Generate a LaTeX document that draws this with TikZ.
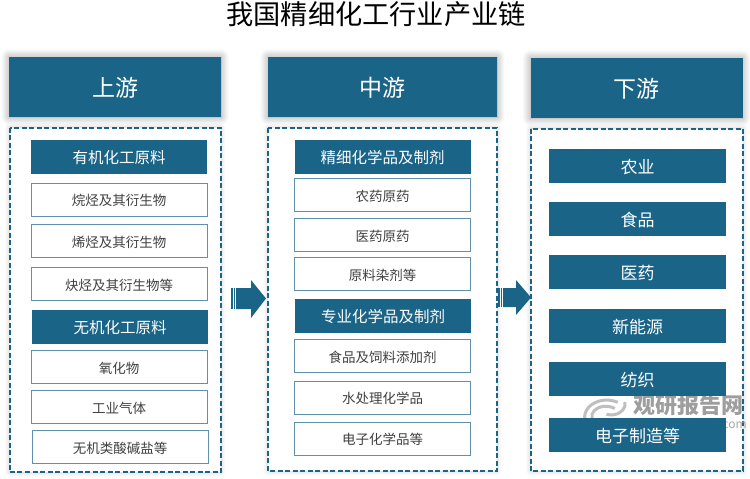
\documentclass[tikz,border=0pt]{standalone}
\usepackage{fontspec}
\setmainfont{Noto Sans CJK SC}
\usetikzlibrary{shadows.blur}
\definecolor{chainblue}{RGB}{26,100,135}
\definecolor{itemline}{RGB}{95,145,170}
\tikzset{
    softshadow/.style n args={2}{blur shadow={shadow xshift=0pt,shadow yshift=0pt,shadow blur radius=#1,shadow blur steps=10,shadow opacity=#2}},
    headbox/.style={fill=chainblue,text=white,minimum height=60pt,font=\fontsize{23}{23}\selectfont,text height=24pt,text depth=4.6pt,softshadow={8pt}{40}},
    groupbox/.style={fill=chainblue,text=white,minimum width=176pt,minimum height=34pt,font=\fontsize{15.5}{16}\selectfont,text height=17pt,text depth=3.2pt},
    salebox/.style={groupbox,minimum width=177pt,font=\fontsize{17}{17}\selectfont,text height=18pt,text depth=3pt},
    itembox/.style={draw=itemline,fill=white,minimum width=176pt,minimum height=33pt,font=\fontsize{13.5}{14}\selectfont,text=black!75,text height=14.5pt,text depth=2pt},
    dashbox/.style={draw=chainblue,line width=2pt,dash pattern=on 5pt off 2.5pt,fill=white,softshadow={5pt}{20}},
    flowarrow/.style={fill=chainblue,draw=none},
    logoarc/.style={draw=black!25,line width=3pt}
}
\begin{document}
\begin{tikzpicture}[x=1pt,y=-1pt]
    \useasboundingbox (0,0) rectangle (750,479);
    \node (title) at (376,14) {\fontsize{27.2}{27}\selectfont 我国精细化工行业产业链};
    % columns
    \node (up) at (115,87) [headbox,minimum width=212pt] {上游};
    \node (mid) at (382.5,87) [headbox,minimum width=229pt] {中游};
    \node (down) at (636.5,88) [headbox,minimum width=212pt] {下游};
    \draw[dashbox] (9.5,127.5) rectangle (221,472);
    \draw[dashbox] (268,128) rectangle (497,471);
    \draw[dashbox] (530.5,128.5) rectangle (743,471);
    % watermark
    \draw[logoarc] (585,420) arc (190:60:22pt and 17pt);
    \draw[logoarc] (592,418) arc (190:50:14pt and 10pt);
    \draw[logoarc] (625,402) arc (10:-110:14pt and 11pt);
    \node (mark) at (688,405) [text=black!38,font=\bfseries\fontsize{22}{22}\selectfont] {观研报告网};
    \node (site) at (733,425) [text=black!35,font=\fontsize{12}{12}\selectfont] {.com};
    % upstream
    \node (organic) at (119,157) [groupbox] {有机化工原料};
    \node (alkane) at (119,199.5) [itembox] {烷烃及其衍生物};
    \node (alkene) at (119,241) [itembox] {烯烃及其衍生物};
    \node (alkyne) at (119,284) [itembox] {炔烃及其衍生物等};
    \node (inorganic) at (120,327) [groupbox] {无机化工原料};
    \node (oxide) at (119,367) [itembox] {氧化物};
    \node (gas) at (119,407) [itembox] {工业气体};
    \node (salt) at (120,447) [itembox] {无机类酸碱盐等};
    % midstream
    \node (fine) at (382.5,157) [groupbox] {精细化学品及制剂};
    \node (pesticide) at (382.5,195) [itembox] {农药原药};
    \node (pharma) at (382.5,235) [itembox] {医药原药};
    \node (dye) at (382.5,274) [itembox] {原料染剂等};
    \node (special) at (383,315.5) [groupbox] {专业化学品及制剂};
    \node (feed) at (382.5,356) [itembox] {食品及饲料添加剂};
    \node (water) at (382.5,397.5) [itembox] {水处理化学品};
    \node (electro) at (382.5,438.5) [itembox] {电子化学品等};
    % downstream
    \node (farm) at (637.5,166) [salebox] {农业};
    \node (food) at (637.5,219) [salebox] {食品};
    \node (medicine) at (637.5,272) [salebox] {医药};
    \node (energy) at (637.5,326) [salebox] {新能源};
    \node (textile) at (637.5,379) [salebox] {纺织};
    \node (maker) at (637.5,435) [salebox] {电子制造等};
    % arrows
    \fill[flowarrow] (231,288) rectangle +(1.5,21);
    \fill[flowarrow] (233.5,288) rectangle +(1.5,21);
    \fill[flowarrow] (236,288) -- (251,288) -- (251,280) -- (266,298.5) -- (251,318) -- (251,309) -- (236,309) -- cycle;
    \fill[flowarrow] (498,288) rectangle +(1.5,19);
    \fill[flowarrow] (500.5,288) rectangle +(1.5,19);
    \fill[flowarrow] (503,288) -- (516,288) -- (516,280) -- (531,297.5) -- (516,315) -- (516,307) -- (503,307) -- cycle;
\end{tikzpicture}
\end{document}
